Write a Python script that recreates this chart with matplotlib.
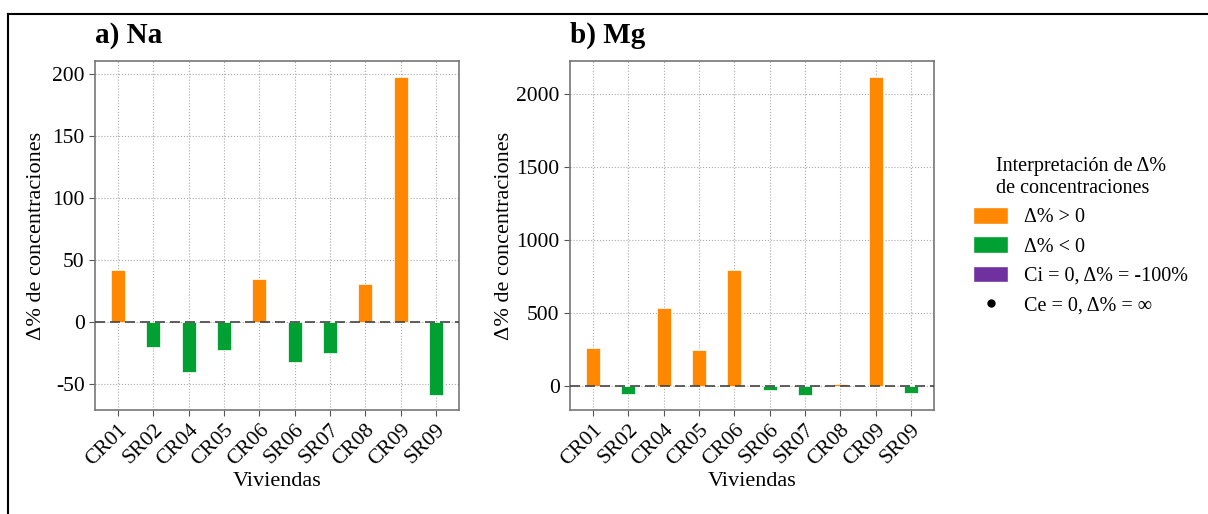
import matplotlib
matplotlib.use("Agg")
import matplotlib.pyplot as plt
from matplotlib.patches import Patch
from matplotlib.lines import Line2D

plt.rcParams['font.family'] = ['Liberation Serif', 'DejaVu Serif']
plt.rcParams['mathtext.fontset'] = 'stix'
plt.rcParams['axes.unicode_minus'] = False

viviendas = ["CR01", "SR02", "CR04", "CR05", "CR06", "SR06", "SR07", "CR08", "CR09", "SR09"]
na_vals = [42, -20, -40.5, -23, 34.5, -32, -25, 30.5, 197.5, -59]
mg_vals = [258, -53, 536, 249, 795, -30, -62, 16, 2117, -46]

ORANGE = "#FF8800"
GREEN = "#00A032"
PURPLE = "#7030A0"

fig = plt.figure(figsize=(12.08, 5.14), dpi=100)
W, H = 1208, 514
ax1 = fig.add_axes([95 / W, 1 - 410 / H, 364 / W, 349 / H])
ax2 = fig.add_axes([570 / W, 1 - 410 / H, 364 / W, 349 / H])

def draw(ax, vals, ylim, yticks, title):
    x = list(range(len(viviendas)))
    colors = [ORANGE if v > 0 else GREEN for v in vals]
    ax.set_axisbelow(True)
    ax.grid(True, linestyle=':', color='#aaaaaa', linewidth=0.8)
    ax.bar(x, vals, width=0.4, color=colors, edgecolor='#ffffff', linewidth=0.5, zorder=2)
    ax.axhline(0, color='#444444', linestyle=(0, (6, 3)), linewidth=1.2, zorder=3)
    ax.set_xlim(-0.65, 9.65)
    ax.set_ylim(*ylim)
    ax.set_yticks(yticks)
    ax.set_xticks(x)
    ax.set_xticklabels(viviendas, rotation=45, ha='right', rotation_mode='anchor')
    ax.tick_params(labelsize=15.5, color='#555555', length=4)
    for s in ax.spines.values():
        s.set_color('#777777')
        s.set_linewidth(1.2)
    ax.set_xlabel("Viviendas", fontsize=16, labelpad=2)
    ax.set_ylabel("Δ% de concentraciones", fontsize=16)
    ax.set_title(title, loc='left', fontsize=21, fontweight='bold', x=0.0, y=1.03)

draw(ax1, na_vals, (-71, 210.5), [-50, 0, 50, 100, 150, 200], "a) Na")
draw(ax2, mg_vals, (-165, 2226), [0, 500, 1000, 1500, 2000], "b) Mg")
ax1.yaxis.set_label_coords(-0.135, 0.5)
ax2.yaxis.set_label_coords(-0.154, 0.5)

handles = [
    Patch(facecolor=ORANGE, edgecolor='white'),
    Patch(facecolor=GREEN, edgecolor='white'),
    Patch(facecolor=PURPLE, edgecolor='white'),
    Line2D([], [], marker='o', color='black', linestyle='None', markersize=5),
]
labels = ["Δ% > 0", "Δ% < 0", "Ci = 0, Δ% = -100%", "Ce = 0, Δ% = ∞"]
leg = fig.legend(handles, labels, title="Interpretación de Δ%\nde concentraciones",
                 loc='upper left', bbox_to_anchor=(971 / W, 1 - 155 / H),
                 frameon=False, fontsize=14.5, title_fontsize=14.5,
                 handlelength=1.75, handleheight=0.9, labelspacing=0.45, handletextpad=0.8,
                 borderpad=0.1, borderaxespad=0)

# frame lines (top and left)
fig.add_artist(Line2D([8 / W, 1], [1 - 14 / H, 1 - 14 / H], color='black', linewidth=1.5, transform=fig.transFigure))
fig.add_artist(Line2D([8 / W, 8 / W], [0, 1 - 14 / H], color='black', linewidth=1.5, transform=fig.transFigure))

fig.savefig("out.png", dpi=100)
